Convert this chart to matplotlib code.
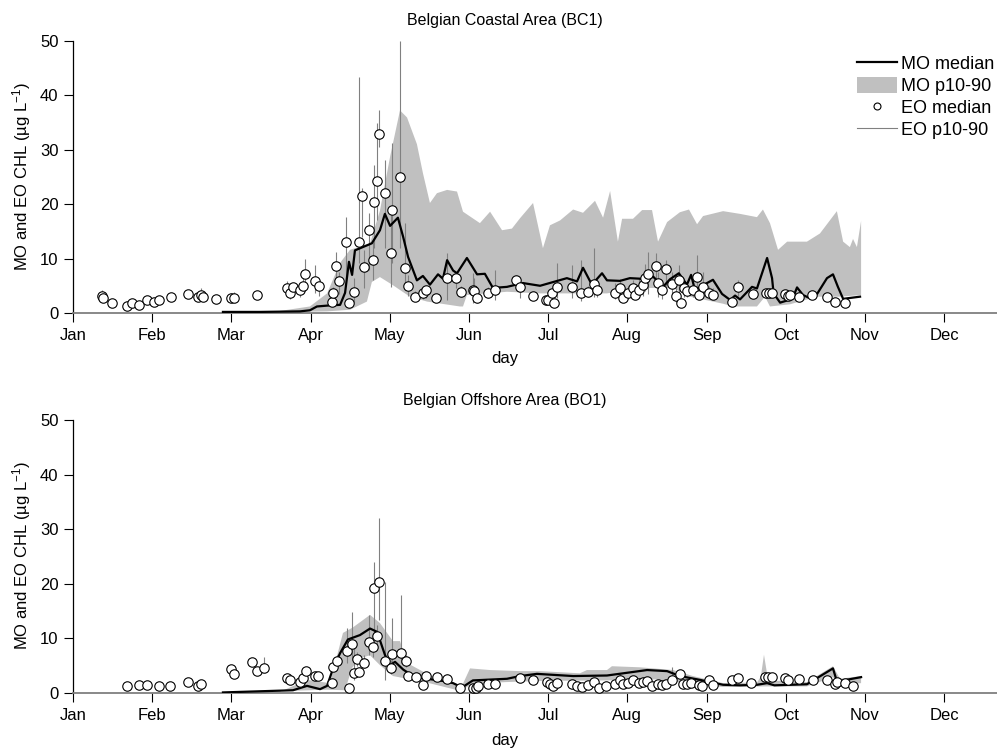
import matplotlib
matplotlib.use("Agg")
import matplotlib.pyplot as plt
from matplotlib.patches import Patch
from matplotlib.lines import Line2D

plt.rcParams['font.family'] = ['Liberation Sans', 'DejaVu Sans']
plt.rcParams['mathtext.fontset'] = 'custom'
plt.rcParams['mathtext.rm'] = 'Liberation Sans'
plt.rcParams['mathtext.it'] = 'Liberation Sans'

months = ['Jan', 'Feb', 'Mar', 'Apr', 'May', 'Jun', 'Jul', 'Aug', 'Sep', 'Oct', 'Nov', 'Dec']
month_len = 30.42  # equally spaced month ticks, as in the original

# ---------------- Belgian Coastal Area (BC1) ----------------
bc_mo_day = [57.6, 71.8, 87.2, 91.0, 93.7, 98.7, 102.6, 104.5, 106.0, 107.2, 108.3, 114.8, 117.9, 119.8,
             121.8, 124.8, 126.8, 128.7, 132.1, 134.4, 137.1, 140.2, 142.1, 143.7, 146.0, 147.5, 151.3,
             155.2, 158.2, 161.3, 166.7, 172.8, 179.4, 189.7, 193.6, 195.9, 199.3, 203.2, 205.1, 210.1,
             213.9, 217.8, 220.5, 222.8, 226.6, 229.3, 232.7, 235.8, 237.4, 238.9, 242.0, 245.8, 249.3,
             252.4, 254.3, 256.2, 260.8, 262.7, 266.6, 268.5, 269.1, 271.6, 274.3, 276.6, 278.1, 280.4,
             283.1, 285.8, 289.6, 291.9, 293.8, 295.8, 302.3]
bc_mo_med = [0.2, 0.2, 0.3, 0.5, 1.2, 1.4, 1.5, 3.7, 9.4, 7.0, 11.5, 12.8, 15.2, 18.2,
             16.0, 17.5, 14.0, 10.3, 6.0, 6.8, 5.2, 7.1, 6.3, 9.7, 7.8, 7.3, 10.1,
             7.1, 7.2, 4.6, 4.8, 5.5, 5.0, 6.4, 5.8, 8.3, 5.2, 7.3, 6.0, 5.9,
             6.4, 6.3, 5.9, 6.7, 4.8, 6.2, 7.3, 5.2, 7.0, 4.2, 5.1, 6.1, 3.5,
             2.4, 3.2, 2.5, 4.8, 4.5, 10.1, 6.4, 3.6, 1.9, 2.3, 2.9, 4.7, 3.3,
             2.7, 3.5, 6.4, 7.1, 4.8, 2.6, 3.0]

bc_p90_day = [57.6, 78.4, 91.0, 97.6, 102.6, 106.4, 114.1, 117.9, 121.8, 125.6, 128.3, 132.1, 134.4, 137.1,
              139.8, 143.7, 147.5, 149.8, 156.3, 160.2, 164.8, 168.6, 171.7, 176.7, 180.5, 183.2, 187.1,
              192.1, 195.9, 200.5, 203.6, 206.3, 209.3, 210.9, 215.1, 218.6, 222.4, 224.7, 228.2, 233.1,
              236.6, 239.7, 242.0, 249.7, 256.2, 262.7, 265.0, 267.7, 270.8, 274.3, 281.9, 286.9, 293.4,
              295.8, 298.4, 299.6, 301.1, 302.7]
bc_p90 = [0.1, 0.3, 1.2, 3.6, 9.2, 11.6, 12.8, 18.8, 28.7, 37.2, 35.9, 31.0, 25.7, 20.2,
          22.0, 22.6, 22.3, 18.6, 16.5, 18.6, 15.2, 15.5, 17.4, 20.2, 11.9, 16.1, 17.0,
          19.0, 18.4, 20.6, 17.5, 22.4, 13.1, 17.3, 17.3, 18.9, 18.9, 13.1, 16.7, 18.5,
          19.0, 16.3, 17.8, 18.7, 18.2, 17.6, 19.0, 16.5, 11.6, 13.1, 13.1, 14.6, 18.7,
          13.1, 12.1, 13.6, 12.1, 16.9]
bc_p10_day = [57.6, 97.6, 106.4, 112.9, 114.8, 117.9, 122.9, 129.4, 136.0, 148.6, 149.8, 151.3, 166.7,
              179.4, 205.1, 217.8, 230.5, 237.0, 249.7, 253.5, 262.7, 265.8, 267.7, 275.4, 285.8, 294.6,
              302.7]
bc_p10 = [0.0, 0.3, 0.6, 2.1, 5.7, 6.6, 5.1, 3.0, 2.1, 1.2, 1.2, 3.3, 3.9,
          3.6, 3.6, 4.6, 4.6, 3.0, 1.7, 1.2, 1.2, 3.0, 1.2, 1.6, 3.0, 3.0,
          3.3]

bc_eo_day = [11.0, 11.5, 15.0, 20.7, 22.7, 25.4, 28.4, 31.1, 33.0, 37.6, 44.2, 48.0, 49.2, 49.9, 54.9,
             60.7, 61.8, 70.7, 82.2, 83.3, 84.5, 87.2, 88.3, 89.1, 93.0, 94.5, 99.5, 99.9, 101.0,
             102.2, 104.9, 106.0, 107.9, 109.9, 111.0, 111.8, 113.7, 115.2, 115.6, 116.8, 117.5,
             119.8, 122.1, 122.5, 125.6, 127.5, 128.7, 131.4, 134.4, 135.6, 139.4, 143.7, 147.1,
             149.0, 153.6, 154.0, 155.2, 159.4, 162.1, 170.2, 171.7, 176.7, 181.7, 182.4, 184.0,
             184.7, 185.9, 191.7, 195.1, 197.8, 200.1, 201.3, 208.2, 210.1, 211.3, 213.2, 215.1,
             215.9, 217.4, 219.0, 219.7, 220.9, 223.9, 224.7, 226.2, 227.8, 230.1, 231.6, 232.7,
             233.5, 234.7, 235.8, 238.1, 239.7, 240.4, 242.0, 244.3, 245.8, 253.1, 255.4, 261.2,
             266.2, 267.3, 268.5, 273.5, 274.6, 275.4, 278.9, 283.8, 289.6, 292.7, 296.5]
bc_eo_med = [3.1, 2.8, 1.9, 1.2, 1.8, 1.5, 2.3, 2.1, 2.4, 3.0, 3.5, 3.0, 3.3, 3.0, 2.6,
             2.8, 2.8, 3.3, 4.5, 3.6, 4.7, 4.3, 5.0, 7.1, 5.9, 5.0, 2.1, 3.6, 8.7,
             5.9, 13.0, 1.8, 3.9, 13.1, 21.5, 8.4, 15.2, 9.8, 20.4, 24.3, 32.8,
             22.0, 11.0, 19.0, 24.9, 8.2, 5.0, 3.0, 3.7, 4.2, 2.7, 6.5, 6.4,
             3.9, 4.2, 4.0, 2.7, 3.7, 4.3, 6.0, 4.8, 3.2, 2.4, 2.3, 3.7,
             1.8, 4.8, 4.8, 3.7, 3.9, 5.4, 4.3, 3.7, 4.5, 2.7, 3.6, 4.5,
             3.3, 4.3, 5.1, 6.4, 7.2, 8.7, 5.6, 4.3, 8.1, 5.4, 3.2, 6.0,
             1.9, 4.5, 4.1, 4.3, 6.7, 3.3, 4.8, 3.6, 3.3, 2.1, 4.8, 3.4,
             3.7, 3.7, 3.7, 3.4, 3.2, 3.3, 3.0, 3.3, 2.9, 2.1, 1.9]
bc_eo_p10 = [2.1, 2.2, 1.6, 1.0, 1.4, 1.2, 1.8, 1.8, 2.0, 2.4, 2.8, 2.4, 2.5, 2.5, 2.2,
             2.3, 2.3, 2.8, 3.2, 2.6, 3.7, 2.9, 3.8, 4.2, 3.7, 3.2, 1.4, 2.6, 5.4,
             3.5, 6.1, 1.2, 2.0, 9.2, 14.0, 4.5, 7.9, 6.0, 12.0, 17.0, 30.5,
             12.0, 4.8, 9.2, 12.0, 4.6, 3.2, 2.2, 2.5, 2.8, 2.0, 2.4, 4.5,
             3.0, 1.8, 2.5, 1.8, 2.8, 2.4, 4.5, 2.8, 2.5, 1.8, 1.8, 2.5,
             1.3, 2.8, 2.8, 2.2, 3.0, 2.9, 3.0, 2.5, 3.0, 2.0, 2.5, 3.0,
             2.5, 2.8, 3.2, 4.0, 3.5, 5.0, 3.0, 2.5, 5.0, 3.5, 2.0, 3.5,
             1.4, 3.0, 3.0, 3.0, 3.2, 2.5, 3.0, 2.5, 2.5, 1.6, 3.2, 2.8,
             3.2, 3.2, 3.2, 2.8, 2.8, 2.8, 2.5, 2.8, 2.4, 1.8, 1.5]
bc_eo_p90 = [4.2, 3.4, 2.2, 1.5, 2.2, 1.8, 3.0, 2.5, 3.0, 3.6, 4.0, 3.8, 4.6, 3.6, 3.0,
             3.6, 3.9, 3.8, 5.8, 4.6, 5.4, 5.0, 6.5, 9.9, 8.8, 6.3, 3.0, 4.8, 11.2,
             7.5, 17.7, 2.5, 6.5, 43.4, 23.0, 11.5, 18.3, 13.0, 27.2, 34.9, 37.2,
             28.1, 18.3, 31.2, 50.0, 16.6, 7.0, 4.0, 4.6, 5.0, 3.5, 11.0, 7.5,
             5.0, 7.3, 6.5, 4.0, 4.8, 7.9, 7.0, 5.5, 4.0, 3.0, 3.2, 4.8,
             2.5, 9.2, 8.8, 9.7, 5.0, 11.9, 6.0, 5.5, 6.2, 3.8, 5.0, 6.0,
             4.6, 6.5, 7.0, 9.0, 11.2, 11.0, 7.5, 6.0, 9.7, 7.5, 4.5, 8.8,
             2.5, 6.5, 5.5, 6.0, 10.6, 4.5, 7.5, 5.0, 4.5, 2.8, 6.0, 4.0,
             4.2, 4.2, 4.2, 4.0, 3.8, 3.8, 3.6, 4.0, 3.5, 2.6, 2.4]

# ---------------- Belgian Offshore Area (BO1) ----------------
bo_mo_day = [57.6, 84.5, 89.9, 94.9, 97.6, 99.9, 102.6, 105.6, 110.2, 114.1, 116.8, 119.8, 121.8, 123.7,
             126.8, 130.6, 136.0, 142.1, 146.0, 149.4, 153.6, 166.7, 171.7, 178.2, 192.1, 205.1, 211.3,
             220.5, 228.2, 233.1, 240.8, 249.7, 256.2, 262.7, 266.6, 269.4, 281.9, 291.9, 293.8, 295.8,
             302.7]
bo_mo_med = [0.1, 0.5, 1.3, 0.7, 1.3, 4.5, 7.3, 9.8, 10.6, 11.8, 11.2, 7.0, 5.1, 5.7,
             4.3, 3.1, 2.6, 2.2, 1.8, 1.0, 2.3, 2.6, 3.1, 3.5, 3.1, 3.2, 3.6,
             4.2, 4.0, 3.1, 2.4, 1.5, 1.4, 1.5, 1.8, 1.4, 1.6, 4.5, 1.5, 2.3,
             2.9]

bo_p90_day = [57.6, 79.5, 89.9, 98.7, 103.7, 107.5, 114.1, 117.9, 122.9, 125.6, 128.3, 136.0, 141.0,
              148.6, 149.8, 152.5, 160.2, 171.7, 179.4, 194.7, 197.4, 205.1, 207.0, 217.8, 230.5, 238.1,
              249.7, 262.7, 264.2, 265.4, 266.6, 267.3, 281.9, 291.9, 294.6, 302.7]
bo_p90 = [0.1, 0.2, 2.4, 1.8, 11.0, 12.0, 14.3, 12.8, 9.5, 9.5, 5.5, 3.5, 2.5,
          1.5, 1.7, 4.5, 4.2, 4.0, 4.0, 3.6, 4.2, 4.2, 4.9, 4.7, 4.2, 3.1,
          1.8, 1.9, 3.0, 7.0, 3.5, 2.3, 2.0, 4.9, 2.6, 3.1]
bo_p10_day = [57.6, 97.6, 104.5, 107.2, 110.2, 114.1, 117.9, 122.9, 136.0, 148.6, 153.6, 166.7, 179.4,
              205.1, 224.3, 237.0, 249.7, 265.4, 281.9, 291.9, 294.6, 302.7]
bo_p10 = [0.0, 0.6, 0.5, 4.6, 6.4, 6.9, 5.1, 3.1, 1.9, 0.4, 1.7, 2.0, 2.2,
          2.3, 2.5, 1.7, 1.1, 1.2, 1.2, 2.9, 1.5, 1.8]

bo_eo_day = [20.7, 25.4, 28.4, 33.0, 37.3, 44.2, 48.0, 49.2, 60.7, 61.8, 68.8, 70.7, 73.4, 82.2, 83.3,
             87.2, 88.3, 89.5, 93.0, 94.1, 99.5, 99.9, 101.4, 105.2, 106.0, 107.2, 107.9, 109.1, 109.9,
             111.8, 113.7, 115.2, 115.6, 116.8, 117.5, 119.8, 122.1, 122.5, 126.0, 127.9, 128.7, 131.7,
             134.4, 135.6, 139.8, 143.7, 148.6, 153.6, 154.8, 155.6, 159.4, 162.1, 171.7, 176.7, 182.1,
             183.2, 184.4, 185.9, 191.7, 193.6, 195.5, 197.8, 200.1, 202.0, 204.7, 208.2, 210.1, 211.3,
             213.2, 215.1, 217.4, 219.0, 220.5, 222.4, 224.7, 226.2, 227.8, 230.1, 233.1, 234.3, 235.8,
             237.4, 240.4, 241.6, 244.3, 245.8, 253.1, 255.4, 260.4, 265.8, 266.9, 268.5, 273.5, 274.6,
             278.9, 284.2, 289.6, 292.7, 293.4, 296.5, 299.6]
bo_eo_med = [1.3, 1.5, 1.5, 1.3, 1.3, 2.0, 1.3, 1.6, 4.3, 3.5, 5.7, 4.0, 4.6, 2.7, 2.3,
             2.1, 2.7, 4.1, 3.1, 3.1, 1.9, 4.7, 5.9, 7.7, 1.0, 8.9, 3.6, 6.2, 3.9,
             5.4, 9.4, 8.5, 19.2, 10.4, 20.4, 5.9, 4.5, 7.1, 7.3, 5.9, 3.1, 2.9,
             1.5, 3.1, 2.9, 2.5, 1.0, 0.9, 1.0, 1.2, 1.6, 1.6, 2.8, 2.4, 2.1,
             1.7, 1.3, 1.8, 1.6, 1.2, 1.1, 1.5, 2.1, 1.0, 1.3, 1.7, 2.3, 1.7,
             1.8, 2.4, 1.9, 2.0, 2.2, 1.3, 1.6, 1.5, 1.7, 2.4, 3.4, 1.7, 1.6,
             1.9, 1.5, 1.3, 2.3, 1.5, 2.3, 2.7, 1.9, 2.9, 2.9, 2.9, 2.7, 2.4,
             2.5, 2.3, 2.3, 1.6, 2.0, 1.8, 1.3]
bo_eo_p10 = [1.2, 1.4, 1.4, 1.2, 1.2, 1.8, 1.2, 1.4, 3.8, 3.0, 5.2, 3.5, 3.8, 2.3, 2.0,
             1.8, 2.3, 3.5, 2.7, 2.7, 1.6, 4.0, 5.0, 5.5, 0.8, 6.0, 2.4, 5.0, 3.3,
             4.5, 7.0, 6.5, 11.0, 8.0, 13.4, 2.4, 3.5, 4.6, 5.4, 4.8, 2.6, 2.4,
             1.2, 2.5, 2.3, 2.0, 0.8, 0.7, 0.8, 1.0, 1.3, 1.3, 2.4, 2.0, 1.8,
             1.4, 1.1, 1.5, 1.3, 1.0, 0.9, 1.2, 1.8, 0.8, 1.1, 1.4, 2.0, 1.4,
             1.5, 2.0, 1.6, 1.7, 1.9, 1.1, 1.3, 1.2, 1.4, 2.0, 2.8, 1.4, 1.3,
             1.6, 1.2, 1.1, 2.0, 1.2, 2.0, 2.3, 1.6, 2.5, 2.5, 2.5, 2.3, 2.0,
             2.1, 2.0, 2.0, 1.3, 1.7, 1.5, 1.1]
bo_eo_p90 = [1.5, 1.7, 1.7, 1.5, 1.5, 2.4, 1.5, 1.9, 4.9, 4.0, 6.2, 4.6, 6.6, 3.1, 2.7,
             2.5, 3.2, 4.8, 3.6, 3.6, 2.3, 5.5, 7.0, 11.9, 1.3, 14.9, 8.5, 7.5, 4.6,
             7.0, 14.3, 11.0, 24.0, 12.5, 32.0, 20.4, 6.0, 13.7, 17.9, 7.0, 3.8, 3.4,
             1.8, 3.8, 3.5, 3.5, 1.3, 1.1, 1.3, 1.5, 1.9, 1.9, 3.2, 2.8, 2.5,
             2.0, 1.6, 2.2, 1.9, 1.4, 1.4, 1.8, 2.6, 1.2, 1.6, 2.1, 3.6, 2.0,
             2.2, 2.8, 2.3, 2.4, 2.6, 1.6, 1.9, 1.8, 2.0, 4.8, 4.2, 2.0, 1.9,
             2.3, 1.8, 1.6, 2.8, 1.8, 2.7, 3.2, 2.2, 3.3, 3.3, 3.3, 3.1, 2.8,
             2.9, 2.7, 2.7, 1.9, 2.4, 2.1, 1.6]

band_color = '#c0c0c0'
bar_color = '#808080'

fig = plt.figure(figsize=(9.97, 7.49), dpi=100)
ax_top = fig.add_axes([0.0732, 0.5821, 0.9268, 0.3636])
ax_bot = fig.add_axes([0.0732, 0.0748, 0.9268, 0.3645])

panels = [
    (ax_top, bc_mo_day, bc_mo_med, bc_p90_day, bc_p90, bc_p10_day, bc_p10,
     bc_eo_day, bc_eo_med, bc_eo_p10, bc_eo_p90),
    (ax_bot, bo_mo_day, bo_mo_med, bo_p90_day, bo_p90, bo_p10_day, bo_p10,
     bo_eo_day, bo_eo_med, bo_eo_p10, bo_eo_p90),
]

for ax, mo_d, mo_m, up_d, up_v, lo_d, lo_v, eo_d, eo_m, eo_lo, eo_hi in panels:
    # model p10-90 envelope as one polygon: upper edge forward, lower edge back
    ax.fill(up_d + lo_d[::-1], up_v + lo_v[::-1], color=band_color, lw=0, zorder=1)
    ax.plot(mo_d, mo_m, color='black', lw=1.6, zorder=3)
    ax.vlines(eo_d, eo_lo, eo_hi, color=bar_color, lw=0.8, zorder=2)
    ax.plot(eo_d, eo_m, 'o', ms=6.8, mfc='white', mec='black', mew=0.8, zorder=4)

    ax.set_xlim(0, 354.9)
    ax.set_ylim(0, 50)
    ax.set_xticks([k * month_len for k in range(12)])
    ax.set_xticklabels(months)
    ax.set_yticks([0, 10, 20, 30, 40, 50])
    ax.tick_params(axis='both', direction='out', length=6.5, width=0.8, labelsize=12, pad=4)
    ax.spines['top'].set_visible(False)
    ax.spines['right'].set_visible(False)
    ax.spines['bottom'].set_color('#7f7f7f')
    ax.spines['bottom'].set_linewidth(1.3)
    ax.spines['left'].set_linewidth(0.9)

fig.text(505 / 997, 1 - 20 / 749, 'Belgian Coastal Area (BC1)', ha='center', va='center', fontsize=11.5)
fig.text(505 / 997, 1 - 400 / 749, 'Belgian Offshore Area (BO1)', ha='center', va='center', fontsize=11.5)
fig.text(505 / 997, 1 - 359 / 749, 'day', ha='center', va='center', fontsize=12)
fig.text(505 / 997, 1 - 740 / 749, 'day', ha='center', va='center', fontsize=12)
ylab = 'MO and EO CHL (µg L$^{-1}$)'
fig.text(22 / 997, 1 - 177 / 749, ylab, rotation=90, ha='center', va='center', fontsize=12)
fig.text(22 / 997, 1 - 556 / 749, ylab, rotation=90, ha='center', va='center', fontsize=12)

handles = [
    Line2D([], [], color='black', lw=1.6),
    Patch(facecolor=band_color, edgecolor='none'),
    Line2D([], [], ls='none', marker='o', ms=5, mfc='white', mec='black', mew=0.8),
    Line2D([], [], color=bar_color, lw=0.8),
]
labels = ['MO median', 'MO p10-90', 'EO median', 'EO p10-90']
fig.legend(handles, labels, loc='upper left', bbox_to_anchor=(848 / 997, 1 - 46 / 749),
           frameon=False, fontsize=13, handlelength=2.2, handleheight=1.0,
           handletextpad=0.25, labelspacing=0.2, borderpad=0)

fig.savefig('out.png', dpi=100)
